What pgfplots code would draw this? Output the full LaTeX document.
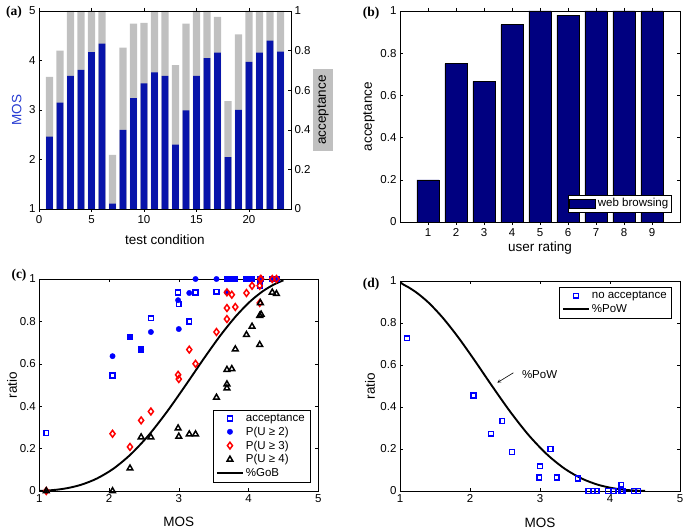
\documentclass[border=0pt]{standalone}
\usepackage{fontspec}
\setmainfont{Liberation Sans}
\newfontfamily\lserif{Liberation Serif}
\usepackage{pgfplots}
\pgfplotsset{compat=1.18}
\definecolor{barblue}{RGB}{8,20,170}
\definecolor{navybar}{RGB}{0,0,128}
\definecolor{lgray}{RGB}{192,192,192}
\definecolor{mosblue}{RGB}{40,60,210}
\pgfplotsset{
  base/.style={scale only axis, anchor=south west,
    /pgf/number format/assume math mode=true,
    tick label style={font=\fontsize{11.5}{13}\selectfont},
    label style={font=\fontsize{13.5}{15}\selectfont},
    legend style={font=\fontsize{11.5}{13}\selectfont, cells={anchor=west}, draw=black},
    major tick length=3pt, tick align=inside,
    tick style={black, line width=0.4pt},
  },
  mklegend/.style={legend image code/.code={\draw[mark repeat=2,mark phase=2,##1] plot coordinates {(0pt,0pt)(13pt,0pt)(26pt,0pt)};}},
  barlegend/.style={legend image code/.code={\draw[##1] (0pt,-4.5pt) rectangle (26pt,4.5pt);}},
}
\begin{document}
\begin{tikzpicture}
\path[use as bounding box] (0pt,0pt) rectangle (685pt,530pt);
% ---------- (a) acceptance (right axis, grey bars)
\begin{axis}[base, at={(39pt,321pt)}, width=252pt, height=198pt,
  xmin=0, xmax=24, ymin=0, ymax=1,
  axis x line=none, axis y line*=right,
  ytick={0,0.2,0.4,0.6,0.8,1},
  ylabel={acceptance},
  ylabel style={at={(axis description cs:1.127,0.5)}, anchor=center, fill=lgray, inner xsep=6pt, inner ysep=4pt},
  ybar, bar width=0.7]
\addplot[fill=lgray, draw=none] coordinates {
(1,0.667)(2,0.80)(3,1)(4,1)(5,1)(6,1)(7,0.273)(8,0.815)(9,0.936)(10,0.94)(11,1)(12,1)
(13,0.727)(14,0.936)(15,1)(16,1)(17,0.97)(18,0.545)(19,0.882)(20,1)(21,1)(22,1)(23,1)};
\end{axis}
% ---------- (a) MOS (left axis, blue bars)
\begin{axis}[base, at={(39pt,321pt)}, width=252pt, height=198pt,
  xmin=0, xmax=24, ymin=1, ymax=5, ytick={1,2,3,4,5}, xtick={0,5,10,15,20},
  ytick pos=left, xtick pos=both,
  xlabel={test condition}, ylabel={MOS},
  xlabel style={at={(axis description cs:0.5,-0.157)}, anchor=center},
  ylabel style={at={(axis description cs:-0.088,0.5)}, anchor=center, text=mosblue},
  ybar, bar width=0.62]
\addplot[fill=barblue, draw=none] coordinates {
(1,2.46)(2,3.15)(3,3.69)(4,3.81)(5,4.17)(6,4.34)(7,1.11)(8,2.60)(9,3.24)(10,3.54)(11,3.76)(12,3.69)
(13,2.30)(14,2.99)(15,3.69)(16,4.05)(17,4.16)(18,2.05)(19,3.00)(20,3.97)(21,4.16)(22,4.40)(23,4.18)};
\end{axis}
% ---------- (b)
\begin{axis}[base, at={(400pt,308pt)}, width=280pt, height=211pt,
  xmin=0, xmax=10, ymin=0, ymax=1, xtick={1,2,3,4,5,6,7,8,9}, ytick={0,0.2,0.4,0.6,0.8,1},
  xlabel={user rating}, ylabel={acceptance},
  xlabel style={at={(axis description cs:0.5,-0.123)}, anchor=center},
  ylabel style={at={(axis description cs:-0.111,0.5)}, anchor=center},
  ybar, bar width=0.8,
  legend style={at={(0.971,0.047)}, anchor=south east, inner sep=1.5pt}]
\addplot[fill=navybar, draw=black, line width=0.5pt, barlegend]
  coordinates {(1,0.2)(2,0.75)(3,0.667)(4,0.935)(5,1)(6,0.98)(7,1)(8,1)(9,1)};
\addlegendentry{web browsing}
\end{axis}
% ---------- (c)
\begin{axis}[base, mklegend, at={(39.3pt,39pt)}, width=279pt, height=212pt,
  xmin=1, xmax=5, ymin=0, ymax=1, xtick={1,2,3,4,5}, ytick={0,0.2,0.4,0.6,0.8,1},
  xlabel={MOS}, ylabel={ratio},
  xlabel style={at={(axis description cs:0.5,-0.146)}, anchor=center},
  ylabel style={at={(axis description cs:-0.098,0.5)}, anchor=center},
  legend style={at={(0.970,0.042)}, anchor=south east, row sep=0pt}]
\addplot[only marks, mark=square, mark size=2.4pt, blue, line width=1.5pt] coordinates {
(2.46,0.667)(3.15,0.80)(3.69,1)(3.81,1)(4.17,1)(4.34,1)(1.10,0.273)(2.60,0.815)(3.24,0.936)(3.54,0.94)(3.76,1)(3.69,1)
(2.30,0.727)(2.99,0.936)(3.69,1)(4.05,1)(4.16,0.97)(2.05,0.545)(3.00,0.882)(3.97,1)(4.16,1)(4.40,1)(4.18,1)};
\addlegendentry{acceptance}
\addplot[only marks, mark=*, mark size=2.7pt, blue] coordinates {
(2.46,0.667)(3.15,0.934)(3.69,1)(3.81,1)(4.17,1)(4.34,1)(2.60,0.75)(3.24,1)(3.54,1)(3.76,1)(3.69,0.937)
(2.30,0.727)(2.99,0.90)(3.69,1)(4.05,1)(4.16,1)(2.05,0.636)(3.00,0.764)(3.97,1)(4.16,1)(4.40,1)(4.18,1)};
\addlegendentry{P(U ≥ 2)}
\addplot[only marks, mark=diamond, mark size=3.4pt, red, line width=1.5pt] coordinates {
(1.10,0)(2.05,0.27)(2.30,0.208)(2.46,0.333)(2.60,0.375)(2.99,0.548)(3.00,0.528)(3.15,0.667)(3.24,0.60)(3.54,0.75)
(3.69,0.937)(3.69,0.863)(3.69,0.811)(3.76,0.926)(3.81,0.868)(3.97,0.934)(4.05,0.968)(4.16,0.968)(4.16,0.887)
(4.17,1)(4.18,1)(4.34,1)(4.40,1)};
\addlegendentry{P(U ≥ 3)}
\addplot[only marks, mark=triangle, mark size=3.3pt, black, line width=1.5pt] coordinates {
(1.10,0)(2.05,0)(2.30,0.107)(2.46,0.254)(2.60,0.254)(2.99,0.296)(3.00,0.257)(3.15,0.268)(3.24,0.268)(3.54,0.441)
(3.69,0.572)(3.69,0.504)(3.69,0.485)(3.76,0.576)(3.81,0.669)(3.97,0.737)(4.05,0.776)(4.16,0.69)(4.16,0.827)
(4.17,0.887)(4.18,0.833)(4.34,0.937)(4.40,0.93)};
\addlegendentry{P(U ≥ 4)}
\addplot[black, line width=1.9pt, smooth, no markers] coordinates {
(1.000,0.0001)(1.035,0.0009)(1.123,0.0025)(1.252,0.0062)(1.416,0.0144)(1.609,0.0304)(1.827,0.0591)
(2.064,0.1056)(2.315,0.1743)(2.575,0.2660)(2.838,0.3773)(3.100,0.5000)(3.355,0.6227)(3.597,0.7340)
(3.822,0.8257)(4.024,0.8944)(4.198,0.9409)(4.339,0.9696)(4.441,0.9857)(4.500,0.9938)};
\addlegendentry{\%GoB}
\end{axis}
% ---------- (d)
\begin{axis}[base, mklegend, at={(400pt,39pt)}, width=280pt, height=210pt,
  xmin=1, xmax=5, ymin=0, ymax=1, xtick={1,2,3,4,5}, ytick={0,0.2,0.4,0.6,0.8,1},
  xlabel={MOS}, ylabel={ratio},
  xlabel style={at={(axis description cs:0.5,-0.152)}, anchor=center},
  ylabel style={at={(axis description cs:-0.107,0.5)}, anchor=center},
  legend style={at={(0.971,0.971)}, anchor=north east, row sep=0pt}]
\addplot[only marks, mark=square, mark size=2.4pt, blue, line width=1.5pt] coordinates {
(2.46,0.333)(3.15,0.20)(3.69,0)(3.81,0)(4.17,0)(4.34,0)(1.10,0.727)(2.60,0.185)(3.24,0.064)(3.54,0.06)(3.76,0)(3.69,0)
(2.30,0.273)(2.99,0.064)(3.69,0)(4.05,0)(4.16,0.03)(2.05,0.455)(3.00,0.118)(3.97,0)(4.16,0)(4.40,0)(4.18,0)};
\addlegendentry{no acceptance}
\addplot[black, line width=1.9pt, smooth, no markers] coordinates {
(1.000,0.9975)(1.035,0.9857)(1.123,0.9696)(1.252,0.9409)(1.416,0.8944)(1.609,0.8257)(1.827,0.7340)
(2.064,0.6227)(2.315,0.5000)(2.575,0.3773)(2.838,0.2660)(3.100,0.1743)(3.355,0.1056)(3.597,0.0591)
(3.822,0.0304)(4.024,0.0144)(4.198,0.0062)(4.339,0.0025)(4.441,0.0009)(4.500,0.0003)};
\addlegendentry{\%PoW}
\draw[-stealth, line width=0.6pt] (axis cs:2.62,0.563) -- (axis cs:2.39,0.516);
\node[anchor=west, inner sep=0pt, font=\fontsize{11.5}{13}\selectfont] at (axis cs:2.74,0.556) {\%PoW};
\end{axis}
% ---------- panel letters
\node[font=\lserif\bfseries\fontsize{13.5}{15}\selectfont] at (14pt,518pt) {(a)};
\node[font=\lserif\bfseries\fontsize{13.5}{15}\selectfont] at (371pt,517pt) {(b)};
\node[font=\lserif\bfseries\fontsize{13.5}{15}\selectfont] at (19pt,254.5pt) {(c)};
\node[font=\lserif\bfseries\fontsize{13.5}{15}\selectfont] at (371pt,246pt) {(d)};
\end{tikzpicture}
\end{document}
